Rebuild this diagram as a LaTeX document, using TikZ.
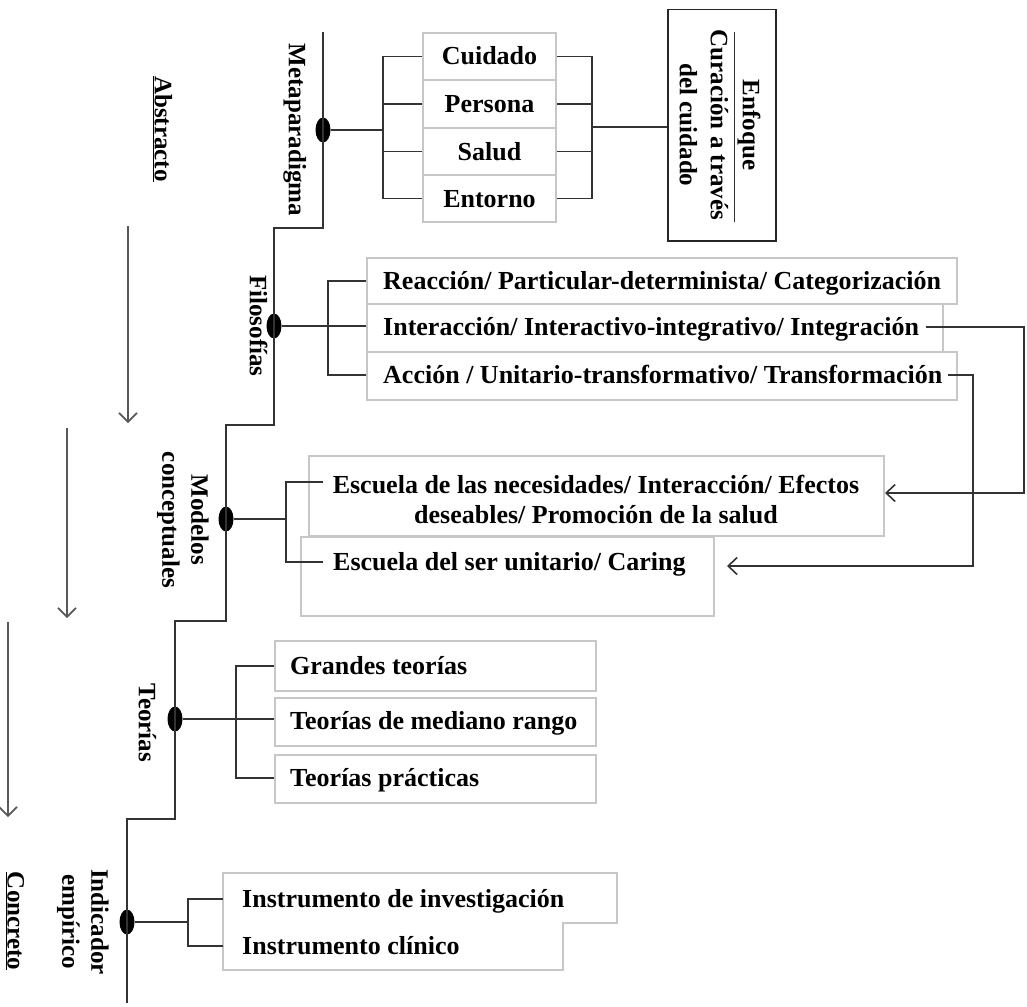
\documentclass[tikz,border=0pt]{standalone}
\usepackage{fontspec}
\setmainfont{Liberation Serif}
\usetikzlibrary{arrows.meta,shapes.geometric}
\newcommand{\bfont}{\fontsize{26}{30}\selectfont\bfseries}
\newcommand{\lfont}{\fontsize{25}{29}\selectfont\bfseries}
\begin{document}
\begin{tikzpicture}[x=1pt,y=-1pt,
  conn/.style={draw=black!80, line width=1.6pt},
  arr/.style={conn, -{Straight Barb[length=9pt,width=17pt]}},
  lar/.style={draw=black!65, line width=1.6pt, -{Straight Barb[length=9pt,width=18pt]}},
  gbox/.style={draw=black!22, line width=2pt, inner sep=0pt, anchor=north west},
  btxt/.style={font=\bfont, text height=17pt, text depth=0pt, inner sep=0pt},
  mtxt/.style={font=\bfont, align=center, inner sep=0pt},
  side/.style={font=\lfont, rotate=-90, text height=16.5pt, text depth=0pt, inner sep=0pt},
  sidem/.style={font=\lfont, rotate=-90, align=center, inner sep=0pt, anchor=north},
  dot/.style={ellipse, fill=black, minimum width=15pt, minimum height=25pt, inner sep=0pt}
]
\useasboundingbox[fill=white] (0,0) rectangle (1027,1006);

% ---------- spine ----------
\coordinate (top) at (323,32);
\node[dot] (d1) at (323,130) {};
\coordinate (s1) at (274,228);
\node[dot] (d2) at (274,326) {};
\coordinate (s2) at (226,425);
\node[dot] (d3) at (226,519) {};
\coordinate (s3) at (175,621);
\node[dot] (d4) at (175,719) {};
\coordinate (s4) at (127,819);
\node[dot] (d5) at (127,922) {};
\coordinate (bot) at (127,1003);
\draw[conn] (top) -- (d1.center) |- (s1) -- (d2.center) |- (s2) -- (d3.center) |- (s3)
  -- (d4.center) |- (s4) -- (d5.center) -- (bot);

% ---------- side labels ----------
\node[side] (abs) at (163,129) {\underline{Abstracto}};
\node[side] (conc) at (16,921) {\underline{Concreto}};
\node[side] (lmeta) at (297,130) {Metaparadigma};
\node[side] (lfilo) at (258,326) {Filosofías};
\node[sidem] (lmod) at (209,520) {Modelos\\conceptuales};
\node[side] (lteo) at (147,723) {Teorías};
\node[sidem] (lind) at (109,922) {Indicador\\empírico};

% ---------- left arrows ----------
\coordinate (la1) at (128,226); \coordinate (la1e) at (128,423);
\coordinate (la2) at (67,428);  \coordinate (la2e) at (67,618);
\coordinate (la3) at (8,622);   \coordinate (la3e) at (8,817);
\draw[lar] (la1) -- (la1e);
\draw[lar] (la2) -- (la2e);
\draw[lar] (la3) -- (la3e);

% ---------- Metaparadigma ----------
\node[gbox, btxt, minimum width=133pt, minimum height=47pt] (m1) at (422,32) {Cuidado};
\node[gbox, btxt, minimum width=133pt, minimum height=48pt] (m2) at (422,79) {Persona};
\node[gbox, btxt, minimum width=133pt, minimum height=47pt] (m3) at (422,127) {Salud};
\node[gbox, btxt, minimum width=133pt, minimum height=47pt] (m4) at (422,174) {Entorno};
\coordinate (bl) at (383,130);
\draw[conn] (m1.west) -- (m1.west -| bl) -- (m4.west -| bl) -- (m4.west);
\draw[conn] (m2.west) -- (m2.west -| bl);
\draw[conn] (m3.west) -- (m3.west -| bl);
\draw[conn] (d1) -- (bl);

\node[draw=black!85, line width=1.5pt, minimum width=108pt, minimum height=231pt,
      inner sep=0pt, anchor=north west] (enf) at (667,9) {};
\node[side] (enf1) at (751,125) {Enfoque};
\node[side] (enf2) at (719,125) {Curación a través};
\node[side] (enf3) at (688,125) {del cuidado};
\draw[draw=black!80, line width=1pt] (734,32) -- (734,222);

\coordinate (br) at (592,127);
\draw[conn] (m1.east) -- (m1.east -| br) -- (m4.east -| br) -- (m4.east);
\draw[conn] (m2.east) -- (m2.east -| br);
\draw[conn] (m3.east) -- (m3.east -| br);
\draw[conn] (br) -- (br -| enf.west);

% ---------- Filosofias ----------
\node[gbox, minimum width=590pt, minimum height=46pt] (f1) at (366,257) {};
\node[gbox, minimum width=576pt, minimum height=48pt] (f2) at (366,303) {};
\node[gbox, minimum width=590pt, minimum height=48pt] (f3) at (366,351) {};
\node[btxt, anchor=west] (ft1) at (383,281) {Reacción/ Particular-determinista/ Categorización};
\node[btxt, anchor=west] (ft2) at (383,327) {Interacción/ Interactivo-integrativo/ Integración};
\node[btxt, anchor=west] (ft3) at (383,375) {Acción / Unitario-transformativo/ Transformación};
\coordinate (bf) at (328,326);
\draw[conn] (ft1.west -| f1.west) -- (ft1.west -| bf) -- (ft3.west -| bf) -- (ft3.west -| f3.west);
\draw[conn] (d2) -- (d2 -| f2.west);

% ---------- Modelos conceptuales ----------
\node[gbox, minimum width=575pt, minimum height=80pt] (mb1) at (308,455) {};
\node[gbox, minimum width=413pt, minimum height=79pt] (mb2) at (300,536) {};
\node[mtxt] (mt1) at (596,499) {Escuela de las necesidades/ Interacción/ Efectos\\deseables/ Promoción de la salud};
\node[btxt, anchor=west] (mt2) at (333,562) {Escuela del ser unitario/ Caring};
\coordinate (bmo) at (286,519);
\coordinate (mo1) at (323,482);
\coordinate (mo2) at (323,562);
\draw[conn] (mo1) -- (mo1 -| bmo) -- (mo2 -| bmo) -- (mo2);
\draw[conn] (d3) -- (bmo);

% ---------- feedback arrows ----------
\coordinate (r1) at (1017,0);
\coordinate (r2) at (968,0);
\coordinate (a1) at (885,493);
\coordinate (a2) at (727,566);
\draw[arr] ([xshift=7pt]ft2.east) -- ([xshift=7pt]ft2.east -| r1) |- (a1);
\draw[arr] ([xshift=5pt]ft3.east) -- ([xshift=5pt]ft3.east -| r2) |- (a2);

% ---------- Teorias ----------
\node[gbox, minimum width=321pt, minimum height=50pt] (tb1) at (274,640) {};
\node[gbox, minimum width=321pt, minimum height=48pt] (tb2) at (274,697) {};
\node[gbox, minimum width=321pt, minimum height=48pt] (tb3) at (274,754) {};
\node[btxt, anchor=west] (tt1) at (290,666) {Grandes teorías};
\node[btxt, anchor=west] (tt2) at (290,721) {Teorías de mediano rango};
\node[btxt, anchor=west] (tt3) at (290,778) {Teorías prácticas};
\coordinate (bt) at (236,719);
\draw[conn] (tt1.west -| tb1.west) -- (tt1.west -| bt) -- (tt3.west -| bt) -- (tt3.west -| tb3.west);
\draw[conn] (d4) -- (d4 -| tb2.west);

% ---------- Indicador empirico ----------
\draw[draw=black!22, line width=2pt] (223,873) -- (617,873) -- (617,923) -- (563,923)
  -- (563,970) -- (223,970) -- cycle;
\coordinate (ib) at (223,922);
\node[btxt, anchor=west] (it1) at (242,899) {Instrumento de investigación};
\node[btxt, anchor=west] (it2) at (242,946) {Instrumento clínico};
\coordinate (bi) at (188,922);
\draw[conn] (it1.west -| ib) -- (it1.west -| bi) -- (it2.west -| bi) -- (it2.west -| ib);
\draw[conn] (d5) -- (bi);
\end{tikzpicture}
\end{document}
